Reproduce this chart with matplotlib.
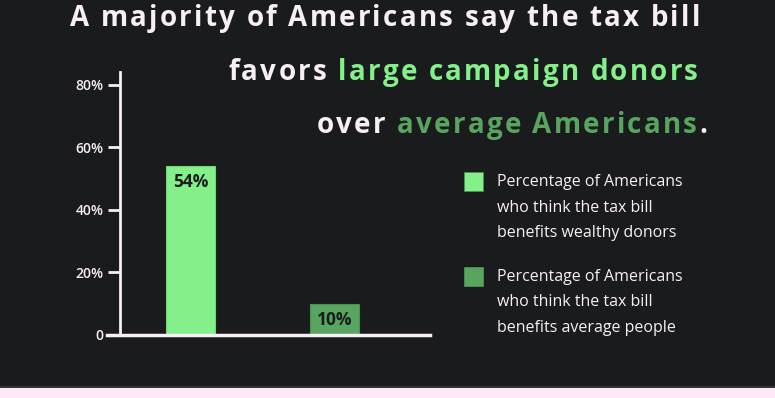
import matplotlib.pyplot as plt
from matplotlib.font_manager import FontProperties, findfont, get_font

categories = ["wealthy donors", "average people"]
values = [54, 10]
bar_labels = ["54%", "10%"]
yticks = [0, 20, 40, 60, 80]
ytick_labels = ["0", "20%", "40%", "60%", "80%"]
legend_lines = [
    ["Percentage of Americans", "who think the tax bill", "benefits wealthy donors"],
    ["Percentage of Americans", "who think the tax bill", "benefits average people"],
]
title_lines = [
    [("A majority of Americans say the tax bill", "fg")],
    [("favors ", "fg"), ("large campaign donors", "light")],
    [("over ", "fg"), ("average Americans", "dark"), (".", "fg")],
]

BG = "#1a1b1d"
FG = "#f8eef6"
LIGHT = "#84f08a"
DARK = "#57a55f"
colors = [LIGHT, DARK]
cmap = {"fg": FG, "light": LIGHT, "dark": DARK}

FAM = "Open Sans"
plt.rcParams["font.family"] = [FAM, "DejaVu Sans"]

W, H = 775, 398
DPI = 100
fig = plt.figure(figsize=(W / DPI, H / DPI), dpi=DPI, facecolor=BG)


def advances(s, size, weight):
    fp = FontProperties(family=FAM, weight=weight, size=size)
    font = get_font(findfont(fp))
    font.set_size(size, DPI)
    return [font.load_char(ord(c)).linearHoriAdvance / 65536 for c in s]


# letter-spaced text, x/y in pixels from top-left, y is the baseline
def tracked(x, y, parts, size, weight, track, ha="left"):
    s = "".join(p for p, _ in parts)
    cols = [cmap[c] for p, c in parts for _ in p]
    adv = advances(s, size, weight)
    total = sum(adv) + track * (len(s) - 1)
    if ha == "right":
        x -= total
    for ch, a, c in zip(s, adv, cols):
        if ch != " ":
            fig.text(x / W, 1 - y / H, ch, ha="left", va="baseline", fontsize=size,
                     fontweight=weight, color=c)
        x += a + track


# pink strip at the bottom
fig.patches.append(plt.Rectangle((0, 0), 1, 10 / H, transform=fig.transFigure,
                                 facecolor="#fde9f7", edgecolor="none", zorder=0))
fig.patches.append(plt.Rectangle((0, 10 / H), 1, 2 / H, transform=fig.transFigure,
                                 facecolor="#333335", edgecolor="none", zorder=0))

ax = fig.add_axes([120 / W, 1 - 335 / H, 310 / W, 263 / H])
ax.set_facecolor("none")
x = range(len(values))
ax.bar(x, values, width=0.34, color=colors, edgecolor=["#6fd676", "#4a9252"], linewidth=0.8, zorder=2)
for xi, v, lab in zip(x, values, bar_labels):
    ax.annotate(lab, (xi, v), xytext=(0, -5), textcoords="offset points",
                ha="center", va="top", fontsize=12.5, fontweight="bold", color=BG)

ax.set_xlim(-0.49, 1.663)
ax.set_ylim(0, 84)
ax.set_xticks([])
ax.set_yticks(yticks)
ax.set_yticklabels(ytick_labels)
ax.tick_params(axis="y", length=9, width=2, color=FG, labelcolor=FG, labelsize=10, pad=3)
for lbl in ax.get_yticklabels():
    lbl.set_fontweight("semibold")
for s in ["top", "right"]:
    ax.spines[s].set_visible(False)
ax.spines["left"].set_color(FG)
ax.spines["left"].set_linewidth(2)
ax.spines["bottom"].set_color(FG)
ax.spines["bottom"].set_linewidth(2.5)
ax.spines["bottom"].set_bounds(-0.58, 1.663)
ax.spines["left"].set_zorder(3)

# legend
for i, (lines, c) in enumerate(zip(legend_lines, colors)):
    y0 = 172 + i * 95
    fig.patches.append(plt.Rectangle((464 / W, 1 - (y0 + 19) / H), 19 / W, 19 / H,
                                     transform=fig.transFigure, facecolor=c,
                                     edgecolor="#4a9252", linewidth=0.6))
    for j, line in enumerate(lines):
        fig.text(497 / W, 1 - (186 + i * 95 + j * 25.5) / H, line, ha="left",
                 va="baseline", fontsize=11.5, color=FG)

# title: spacing picked so the first line runs from x=70 to x=700
TS = 20
first = title_lines[0][0][0]
track = (630 - sum(advances(first, TS, "bold"))) / (len(first) - 1)
for parts, xr, yb in zip(title_lines, [700, 698, 707], [26, 80, 133]):
    tracked(xr, yb, parts, TS, "bold", track, "right")

fig.savefig("out.png", dpi=DPI, facecolor=BG)
